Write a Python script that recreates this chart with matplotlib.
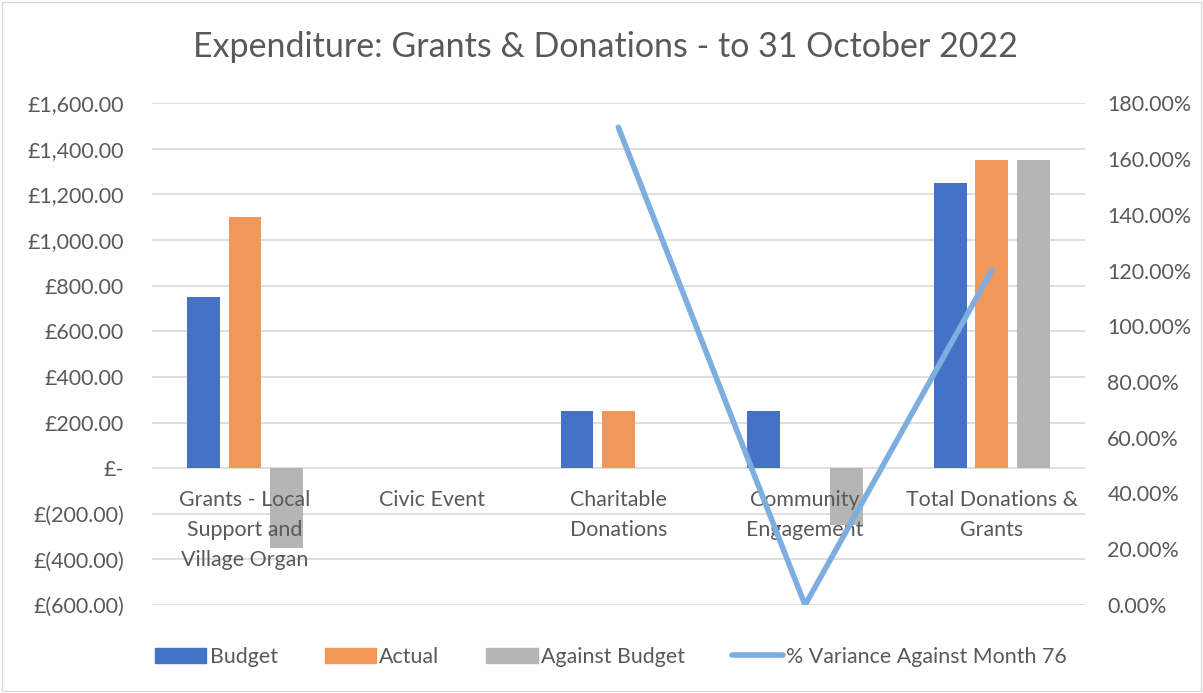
import numpy as np
import matplotlib.pyplot as plt
from matplotlib.lines import Line2D
from matplotlib.patches import Patch, Rectangle

categories = ['Grants - Local\nSupport and\nVillage Organ', 'Civic Event',
              'Charitable\nDonations', 'Community\nEngagement',
              'Total Donations &\nGrants']
budget = [750, 0, 250, 250, 1250]
actual = [1100, 0, 250, 0, 1350]
against_budget = [-350, 0, 0, -250, 1350]
pct_variance = [np.nan, np.nan, 171.4, 0.0, 120.0]

plt.rcParams['font.family'] = ['Lato', 'DejaVu Sans']
txt = '#595959'

fig = plt.figure(figsize=(12.03, 6.93), dpi=100)
ax = fig.add_axes([0.126, 0.127, 0.776, 0.724])
ax2 = ax.twinx()

x = np.arange(len(categories))
w = 0.175
step = 0.222
ax.bar(x - step, budget, w, color='#4472C4', zorder=3)
ax.bar(x, actual, w, color='#F0975A', zorder=3)
ax.bar(x + step, against_budget, w, color='#B5B5B5', zorder=3)

ax2.plot(x, pct_variance, color='#7DAEDF', lw=4, solid_capstyle='round', zorder=4)

ax.set_xlim(-0.5, len(categories) - 0.5)
ax.set_ylim(-600, 1600)
ax.set_yticks(np.arange(-600, 1601, 200))
def money(v):
    if v == 0:
        return '£-'
    if v < 0:
        return '£({:,.2f})'.format(-v)
    return '£{:,.2f}'.format(v)
ax.set_yticklabels([money(v) for v in np.arange(-600, 1601, 200)])
ax.grid(axis='y', color='#D9D9D9', lw=1.2, zorder=0)
ax.set_xticks([])

ax2.set_ylim(0, 180)
ax2.set_yticks(np.arange(0, 181, 20))
ax2.set_yticklabels(['{:.2f}%'.format(v) for v in np.arange(0, 181, 20)])

for a in (ax, ax2):
    for s in a.spines.values():
        s.set_visible(False)
    a.tick_params(length=0, labelsize=15.4, colors=txt)
ax.tick_params(axis='y', pad=20)
ax2.tick_params(axis='y', pad=16)

for xi, lab in zip(x, categories):
    ax.annotate(lab, (xi, 0), xytext=(0, -16), textcoords='offset points',
                ha='center', va='top', fontsize=15.4, color=txt, linespacing=1.6, zorder=5)

fig.text(0.503, 0.932, 'Expenditure: Grants & Donations - to 31 October 2022',
         ha='center', va='center', fontsize=24.5, color=txt)

handles = [Patch(color='#4472C4'), Patch(color='#F0975A'), Patch(color='#B5B5B5'),
           Line2D([], [], color='#7DAEDF', lw=4, solid_capstyle='round')]
labels = ['Budget', 'Actual', 'Against Budget', '% Variance Against Month 76']
fig.legend(handles, labels, loc='center', bbox_to_anchor=(0.508, 0.052), ncol=4,
           frameon=False, fontsize=15.4, labelcolor=txt, handlelength=2.4,
           handletextpad=0.15, columnspacing=2.2)

fig.patches.append(Rectangle((0.002, 0.003), 0.996, 0.994, transform=fig.transFigure,
                             fill=False, ec='#D9D9D9', lw=1))

fig.savefig('out.png', dpi=100)
